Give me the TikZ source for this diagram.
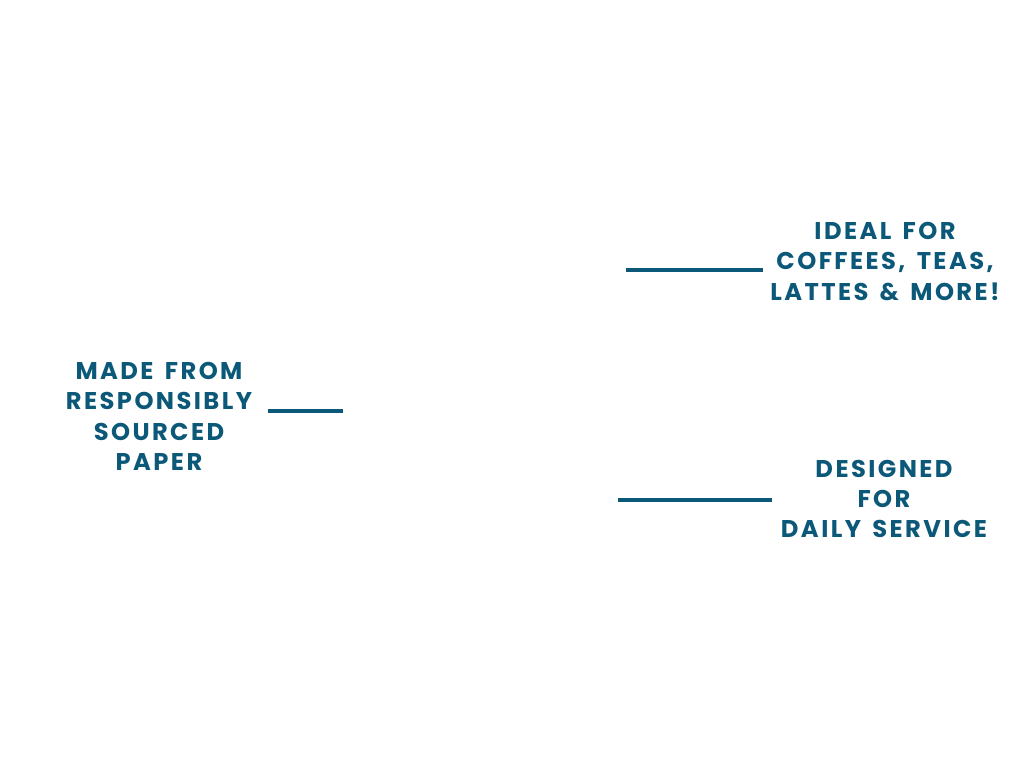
\documentclass[tikz,border=0pt]{standalone}
\usepackage{fontspec}
\setmainfont{Poppins}[LetterSpace=10,WordSpace=1.5]
\definecolor{teal}{RGB}{11,88,120}
\begin{document}
\begin{tikzpicture}[x=1bp,y=-1bp,
  lbl/.style={text=teal,align=center,inner sep=0pt,font=\fontsize{24.3}{30.5}\selectfont\bfseries},
  bar/.style={draw=teal,line width=4bp}]
\useasboundingbox (0,0) rectangle (1024,760);
\node[lbl] (t1) at (885,261.5) {IDEAL FOR\\COFFEES, TEAS,\\LATTES \& MORE!};
\node[lbl] (t2) at (159,416.5) {MADE FROM\\RESPONSIBLY\\SOURCED\\PAPER};
\node[lbl] (t3) at (884,499) {DESIGNED\\FOR\\DAILY SERVICE};
\coordinate (a1) at (626,269.5); \coordinate (b1) at (763,269.5);
\coordinate (a2) at (268,410.5); \coordinate (b2) at (343,410.5);
\coordinate (a3) at (618,499.5); \coordinate (b3) at (772,499.5);
\draw[bar] (a1) -- (b1);
\draw[bar] (a2) -- (b2);
\draw[bar] (a3) -- (b3);
\end{tikzpicture}
\end{document}
